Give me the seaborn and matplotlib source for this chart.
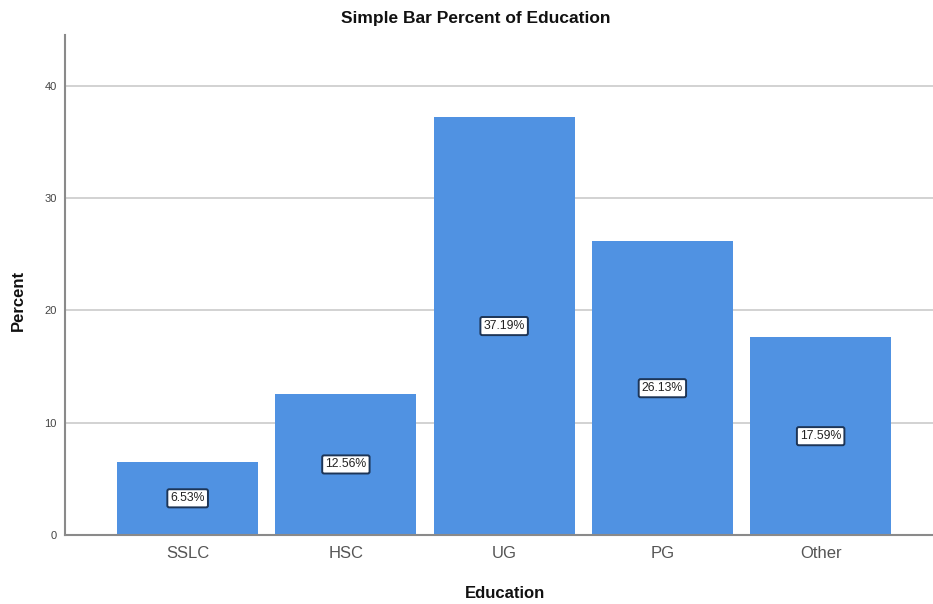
import matplotlib
matplotlib.use("Agg")
import matplotlib.pyplot as plt
import seaborn as sns
import pandas as pd

categories = ["SSLC", "HSC", "UG", "PG", "Other"]
percents = [6.53, 12.56, 37.19, 26.13, 17.59]
y_ticks = [0, 10, 20, 30, 40]

df = pd.DataFrame({"Education": categories, "Percent": percents})

sns.set_style("white")
plt.rcParams["font.family"] = ["Liberation Sans", "DejaVu Sans"]

fig = plt.figure(figsize=(9.33, 6.04), dpi=100)
ax = fig.add_axes([65 / 933, 1 - 535 / 604, 868 / 933, 500 / 604])

sns.barplot(data=df, x="Education", y="Percent", color="#5092E2",
            width=0.89, saturation=1, ax=ax, zorder=2)
for p in ax.patches:
    p.set_linewidth(0)

ax.set_xlim(-0.775, 4.71)
ax.set_ylim(0, 44.5)
ax.set_yticks(y_ticks)
ax.yaxis.grid(True, color="#cfcfcf", linewidth=1.3, zorder=0)
ax.set_axisbelow(True)

for s in ["top", "right"]:
    ax.spines[s].set_visible(False)
for s in ["left", "bottom"]:
    ax.spines[s].set_color("#8a8a8a")
    ax.spines[s].set_linewidth(1.5)

ax.tick_params(axis="y", labelsize=8, colors="#444444", length=4, width=1, color="#8a8a8a", pad=2)
ax.tick_params(axis="x", labelsize=12, colors="#555555", length=0, pad=8)
ax.set_xlabel("")
ax.set_ylabel("")

for i, v in enumerate(percents):
    ax.text(i, v / 2, f"{v:.2f}%", ha="center", va="center", fontsize=8.8,
            color="#222222",
            bbox=dict(boxstyle="round,pad=0.25,rounding_size=0.15",
                      facecolor="white", edgecolor="#1d3557", linewidth=1.4),
            zorder=5)

fig.text(476 / 933, 1 - 18 / 604, "Simple Bar Percent of Education",
         ha="center", va="center", fontsize=12.5, fontweight="bold", color="#111111")
fig.text(505 / 933, 1 - 594 / 604, "Education", ha="center", va="center",
         fontsize=12, fontweight="bold", color="#111111")
fig.text(18 / 933, 1 - 300 / 604, "Percent", ha="center", va="center",
         rotation=90, fontsize=12, fontweight="bold", color="#111111")

fig.savefig("out.png", dpi=100)
